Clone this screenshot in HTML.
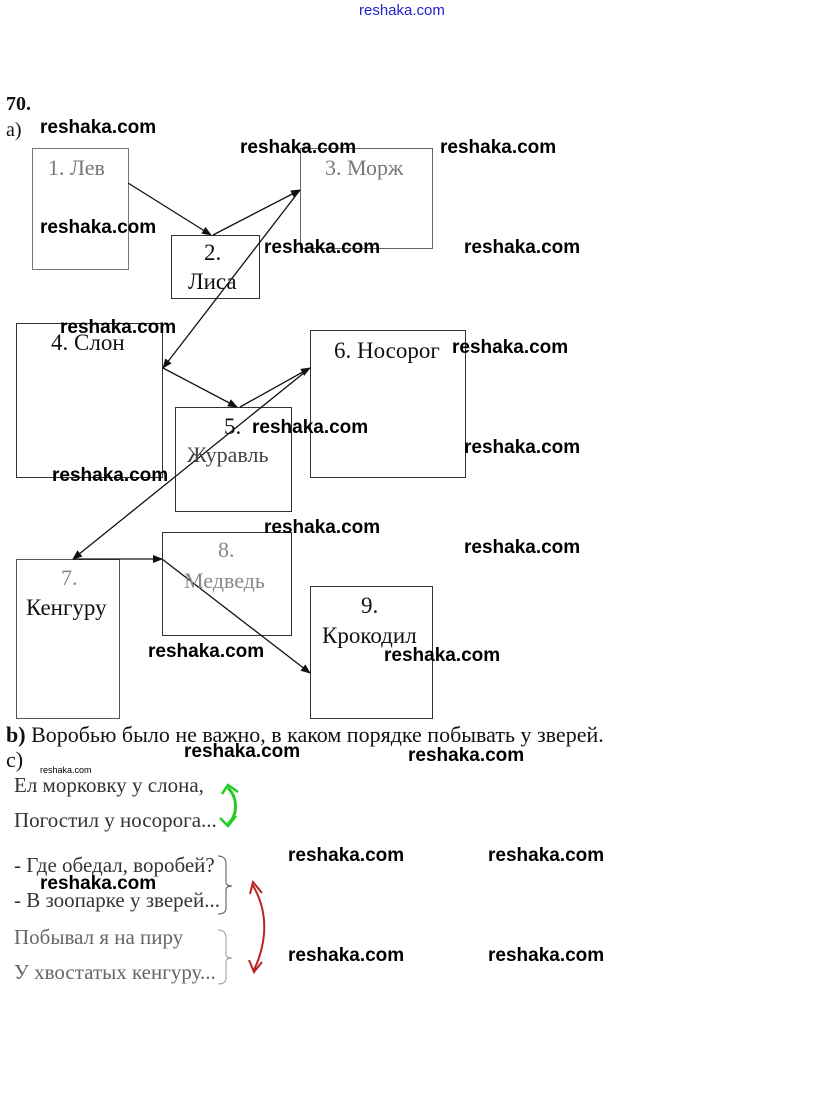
<!DOCTYPE html>
<html><head><meta charset="utf-8"><style>
html,body{margin:0;padding:0;background:#fff;}
body{width:815px;height:1093px;position:relative;overflow:hidden;}
.t{position:absolute;font-family:"Liberation Serif","DejaVu Serif",serif;color:#111;white-space:nowrap;line-height:1;}
.w{position:absolute;font-family:"Liberation Sans","DejaVu Sans",sans-serif;font-weight:bold;font-size:19px;color:#000;white-space:nowrap;line-height:1;}
svg{position:absolute;left:0;top:0;}
</style></head><body>
<svg width="815" height="1093" viewBox="0 0 815 1093">
<defs><marker id="a" markerWidth="10" markerHeight="8" refX="9" refY="4" orient="auto" markerUnits="userSpaceOnUse"><path d="M0,0 L10,4 L0,8 z" fill="#111"/></marker></defs>
<g fill="none" stroke="#333" stroke-width="1">
<rect x="32.5" y="148.5" width="96" height="121" stroke="#777"/>
<rect x="171.5" y="235.5" width="88" height="63"/>
<rect x="300.5" y="148.5" width="132" height="100" stroke="#666"/>
<rect x="16.5" y="323.5" width="146" height="154"/>
<rect x="175.5" y="407.5" width="116" height="104"/>
<rect x="310.5" y="330.5" width="155" height="147"/>
<rect x="16.5" y="559.5" width="103" height="159" stroke="#555"/>
<rect x="162.5" y="532.5" width="129" height="103"/>
<rect x="310.5" y="586.5" width="122" height="132"/>
</g>
<g stroke="#111" stroke-width="1.3" fill="none" marker-end="url(#a)">
<line x1="128" y1="183" x2="211" y2="235"/>
<line x1="213" y1="235" x2="300" y2="190"/>
<line x1="300" y1="190" x2="163" y2="368"/>
<line x1="163" y1="368" x2="237" y2="407"/>
<line x1="240" y1="407" x2="310" y2="368"/>
<line x1="310" y1="368" x2="73" y2="559"/>
<line x1="73" y1="559" x2="162" y2="559"/>
<line x1="162" y1="559" x2="310" y2="673"/>
</g>
<path d="M228,788 C238,798 238,815 228,824" stroke="#2c2" stroke-width="3" fill="none"/>
<path d="M222,794 L228,785 L238,792 M220,818 L228,826 L236,816" stroke="#2c2" stroke-width="2.5" fill="none"/>
<path d="M218,856 q8,0 8,8 v18 q0,4 6,4 q-6,0 -6,4 v18 q0,6 -8,6" stroke="#555" fill="none"/>
<path d="M218,930 q8,0 8,8 v16 q0,4 6,4 q-6,0 -6,4 v16 q0,6 -8,6" stroke="#999" fill="none"/>
<path d="M252,884 C268,910 268,940 254,970" stroke="#b22" stroke-width="2" fill="none"/>
<path d="M250,894 L253,882 L262,893 M249,960 L254,972 L262,962" stroke="#b22" stroke-width="2" fill="none"/>
</svg>
<div class="w" style="left:359px;top:3px;font-size:15px;font-weight:normal;color:#22c;">reshaka.com</div>
<div class="t" style="left:6px;top:94px;font-size:20px;font-weight:bold;">70.</div>
<div class="t" style="left:6px;top:120px;font-size:20px;">a)</div>
<div class="t" style="left:48px;top:157px;font-size:22px;color:#777;">1. Лев</div>
<div class="t" style="left:204px;top:241px;font-size:23px;">2.</div>
<div class="t" style="left:188px;top:270px;font-size:23px;">Лиса</div>
<div class="t" style="left:325px;top:157px;font-size:22px;color:#777;">3. Морж</div>
<div class="t" style="left:51px;top:331px;font-size:23px;">4. Слон</div>
<div class="t" style="left:334px;top:339px;font-size:23px;">6. Носорог</div>
<div class="t" style="left:224px;top:415px;font-size:23px;">5.</div>
<div class="t" style="left:187px;top:444px;font-size:22px;color:#444;">Журавль</div>
<div class="t" style="left:218px;top:539px;font-size:22px;color:#888;">8.</div>
<div class="t" style="left:184px;top:570px;font-size:22px;color:#888;">Медведь</div>
<div class="t" style="left:61px;top:567px;font-size:22px;color:#888;">7.</div>
<div class="t" style="left:26px;top:596px;font-size:23px;">Кенгуру</div>
<div class="t" style="left:361px;top:594px;font-size:23px;">9.</div>
<div class="t" style="left:322px;top:624px;font-size:23px;">Крокодил</div>
<div class="t" style="left:6px;top:724px;font-size:22px;"><b>b)</b> Воробью было не важно, в каком порядке побывать у зверей.</div>
<div class="t" style="left:6px;top:749px;font-size:22px;">c)</div>
<div class="t" style="left:14px;top:775px;font-size:21px;color:#333;">Ел морковку у слона,</div>
<div class="t" style="left:14px;top:810px;font-size:21px;color:#333;">Погостил у носорога...</div>
<div class="t" style="left:14px;top:855px;font-size:21px;color:#333;">- Где обедал, воробей?</div>
<div class="t" style="left:14px;top:890px;font-size:21px;color:#333;">- В зоопарке у зверей...</div>
<div class="t" style="left:14px;top:927px;font-size:21px;color:#666;">Побывал я на пиру</div>
<div class="t" style="left:14px;top:962px;font-size:21px;color:#666;">У хвостатых кенгуру...</div>
<div class="w" style="left:40px;top:118px;">reshaka.com</div>
<div class="w" style="left:240px;top:138px;">reshaka.com</div>
<div class="w" style="left:440px;top:138px;">reshaka.com</div>
<div class="w" style="left:40px;top:218px;">reshaka.com</div>
<div class="w" style="left:264px;top:238px;">reshaka.com</div>
<div class="w" style="left:464px;top:238px;">reshaka.com</div>
<div class="w" style="left:60px;top:318px;">reshaka.com</div>
<div class="w" style="left:452px;top:338px;">reshaka.com</div>
<div class="w" style="left:252px;top:418px;">reshaka.com</div>
<div class="w" style="left:464px;top:438px;">reshaka.com</div>
<div class="w" style="left:52px;top:466px;">reshaka.com</div>
<div class="w" style="left:264px;top:518px;">reshaka.com</div>
<div class="w" style="left:464px;top:538px;">reshaka.com</div>
<div class="w" style="left:148px;top:642px;">reshaka.com</div>
<div class="w" style="left:384px;top:646px;">reshaka.com</div>
<div class="w" style="left:184px;top:742px;">reshaka.com</div>
<div class="w" style="left:408px;top:746px;">reshaka.com</div>
<div class="w" style="left:40px;top:766px;font-size:9px;font-weight:normal;">reshaka.com</div>
<div class="w" style="left:288px;top:846px;">reshaka.com</div>
<div class="w" style="left:488px;top:846px;">reshaka.com</div>
<div class="w" style="left:40px;top:874px;">reshaka.com</div>
<div class="w" style="left:288px;top:946px;">reshaka.com</div>
<div class="w" style="left:488px;top:946px;">reshaka.com</div>
</body></html>
